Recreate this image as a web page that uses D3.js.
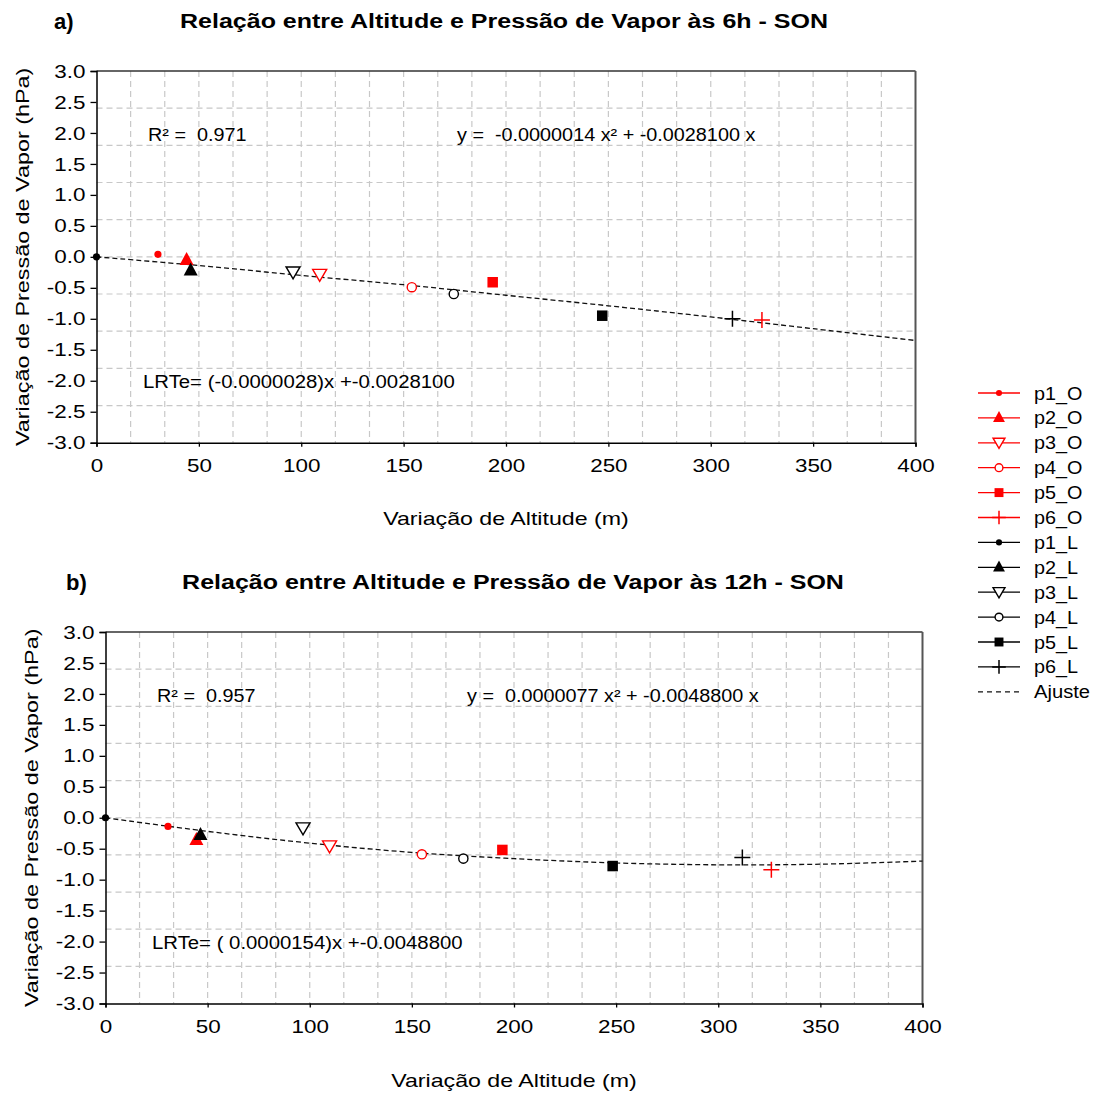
<!DOCTYPE html>
<html><head><meta charset="utf-8">
<script src="https://cdn.jsdelivr.net/npm/d3@7"></script>
<style>
body{margin:0;background:#fff;}
text{font-family:"Liberation Sans",Arial,sans-serif;white-space:pre;}
</style></head>
<body><svg id="c" width="1096" height="1093"></svg>
<script>
// ---- data ----
const seriesNames = ["p1_O","p2_O","p3_O","p4_O","p5_O","p6_O","p1_L","p2_L","p3_L","p4_L","p5_L","p6_L"];
const seriesColors = ["red","red","red","red","red","red","black","black","black","black","black","black"];
const seriesShapes = ["dot","triUp","triDown","ring","square","plus","dot","triUp","triDown","ring","square","plus"];
// chart a) 6h
const altA = [30, 44, 109, 154, 193.5, 325, 0, 46, 96, 174.5, 247, 310.6];
const vapA = [0.04, -0.05, -0.29, -0.49, -0.41, -1.02, 0.0, -0.22, -0.25, -0.60, -0.95, -1.00];
// chart b) 12h
const altB = [30.6, 44.5, 109.7, 154.9, 194.3, 326, 0, 46.5, 96.7, 175.2, 248.3, 311.8];
const vapB = [-0.14, -0.36, -0.46, -0.59, -0.52, -0.84, 0.0, -0.28, -0.17, -0.66, -0.78, -0.64];
// fitted curve
const fitX = [0, 50, 100, 150, 200, 250, 300, 350, 400];
const fitA = [0, -0.14, -0.30, -0.45, -0.62, -0.79, -0.97, -1.16, -1.35];
const fitB = [0, -0.22, -0.41, -0.56, -0.66, -0.73, -0.76, -0.75, -0.70];
const xTicks = [0, 50, 100, 150, 200, 250, 300, 350, 400];
const yTicks = [3.0, 2.5, 2.0, 1.5, 1.0, 0.5, 0.0, -0.5, -1.0, -1.5, -2.0, -2.5, -3.0];
const titles = ["Relação entre Altitude e Pressão de Vapor às 6h - SON", "Relação entre Altitude e Pressão de Vapor às 12h - SON"];
const panelLetters = ["a)", "b)"];
const r2Texts = ["R² =  0.971", "R² =  0.957"];
const eqTexts = ["y =  -0.0000014 x² + -0.0028100 x", "y =  0.0000077 x² + -0.0048800 x"];
const lrteTexts = ["LRTe= (-0.0000028)x +-0.0028100", "LRTe= ( 0.0000154)x +-0.0048800"];
const xLabel = "Variação de Altitude (m)";
const yLabel = "Variação de Pressão de Vapor (hPa)";
const fitName = "Ajuste";

const svg = d3.select("#c");

// widen glyphs horizontally (reference text is wider than Liberation Sans)
function stretch(sel, f) {
  sel.each(function() {
    const len = this.getComputedTextLength();
    d3.select(this).attr("textLength", len * f).attr("lengthAdjust", "spacingAndGlyphs");
  });
  return sel;
}

function drawMarker(g, shape, color, x, y, scale) {
  const s = scale || 1;
  if (shape === "dot") {
    g.append("circle").attr("cx", x).attr("cy", y).attr("r", 3.6*s).attr("fill", color);
  } else if (shape === "triUp") {
    const h = 13*s, w = 14*s;
    g.append("path").attr("d", `M${x},${y-h*0.62}L${x+w/2},${y+h*0.38}L${x-w/2},${y+h*0.38}Z`).attr("fill", color);
  } else if (shape === "triDown") {
    const h = 12*s, w = 14*s;
    g.append("path").attr("d", `M${x-w/2},${y-h*0.45}L${x+w/2},${y-h*0.45}L${x},${y+h*0.55}Z`)
      .attr("fill", "white").attr("stroke", color).attr("stroke-width", 1.4);
  } else if (shape === "ring") {
    g.append("circle").attr("cx", x).attr("cy", y).attr("r", 4.6*s).attr("fill", "white").attr("stroke", color).attr("stroke-width", 1.4);
  } else if (shape === "square") {
    const a = 10.5*s;
    g.append("rect").attr("x", x-a/2).attr("y", y-a/2).attr("width", a).attr("height", a).attr("fill", color);
  } else if (shape === "plus") {
    const a = 8*s;
    g.append("path").attr("d", `M${x-a},${y}H${x+a}M${x},${y-a}V${y+a}`).attr("stroke", color).attr("stroke-width", 1.5).attr("fill", "none");
  }
}

function panel(cfg) {
  const {left, right, top, bottom, alt, vap, fit, idx, titleX, titleY, letterX, ylabX, xlabY} = cfg;
  const x = d3.scaleLinear().domain([0, 400]).range([left, right]);
  const y = d3.scaleLinear().domain([-3, 3]).range([bottom, top]);
  const g = svg.append("g");

  // grid (10 horizontal divisions, 24 vertical divisions)
  const grid = g.append("g").attr("stroke", "#c8c8c8").attr("stroke-width", 1.2).attr("stroke-dasharray", "6,4");
  d3.range(1, 10).forEach(k => {
    const yy = top + (bottom - top) * k / 10;
    grid.append("line").attr("x1", left).attr("x2", right).attr("y1", yy).attr("y2", yy);
  });
  d3.range(1, 24).forEach(k => {
    const xx = left + (right - left) * k / 24;
    grid.append("line").attr("x1", xx).attr("x2", xx).attr("y1", top).attr("y2", bottom);
  });

  // frame
  g.append("line").attr("x1", left).attr("x2", right).attr("y1", top).attr("y2", top).attr("stroke", "#333").attr("stroke-width", 1.5);
  g.append("line").attr("x1", right).attr("x2", right).attr("y1", top).attr("y2", bottom).attr("stroke", "#555").attr("stroke-width", 2);

  // axes
  const xa = g.append("g").attr("transform", `translate(0,${bottom})`)
    .call(d3.axisBottom(x).tickValues(xTicks).tickSize(4).tickPadding(12).tickFormat(d3.format("d")));
  const ya = g.append("g").attr("transform", `translate(${left},0)`)
    .call(d3.axisLeft(y).tickValues(yTicks).tickSize(6).tickPadding(5).tickFormat(d3.format(".1f")));
  [xa, ya].forEach(a => {
    a.select(".domain").attr("stroke", "#000").attr("stroke-width", 1.5);
    a.selectAll(".tick line").attr("stroke", "#000").attr("stroke-width", 1.3);
    a.selectAll("text").attr("font-size", 19).attr("fill", "#000").attr("font-family", "Liberation Sans, Arial, sans-serif");
  });
  ya.selectAll("text").text(d => d3.format(".1f")(d).replace("−", "-"));
  stretch(xa.selectAll("text"), 1.18);
  stretch(ya.selectAll("text"), 1.18);

  // fit line
  const line = d3.line().x(d => x(d[0])).y(d => y(d[1])).curve(d3.curveCardinal);
  g.append("path").datum(fitX.map((v, i) => [v, fit[i]])).attr("d", line)
    .attr("fill", "none").attr("stroke", "#111").attr("stroke-width", 1.3).attr("stroke-dasharray", "5,3");

  // points
  seriesNames.forEach((n, i) => {
    drawMarker(g, seriesShapes[i], seriesColors[i], x(alt[i]), y(vap[i]));
  });

  // annotations
  const fs = 18;
  stretch(g.append("text").attr("x", cfg.r2X).attr("y", cfg.r2Y).attr("font-size", fs).text(r2Texts[idx]), 1.1);
  stretch(g.append("text").attr("x", cfg.eqX).attr("y", cfg.r2Y).attr("font-size", fs).text(eqTexts[idx]), 1.1);
  stretch(g.append("text").attr("x", cfg.lrX).attr("y", cfg.lrY).attr("font-size", fs).text(lrteTexts[idx]), 1.13);

  // titles
  stretch(g.append("text").attr("x", titleX).attr("y", titleY).attr("text-anchor", "middle")
    .attr("font-size", 20).attr("font-weight", "bold").text(titles[idx]), 1.25);
  g.append("text").attr("x", letterX).attr("y", titleY + 1).attr("font-size", 22).attr("font-weight", "bold")
    .attr("font-family", "Liberation Serif, Times New Roman, serif").text(panelLetters[idx]);
  stretch(g.append("text").attr("x", (left + right) / 2).attr("y", xlabY).attr("text-anchor", "middle")
    .attr("font-size", 19).text(xLabel), 1.22);
  stretch(g.append("text").attr("transform", `translate(${ylabX},${(top + bottom) / 2}) rotate(-90)`)
    .attr("text-anchor", "middle").attr("font-size", 19).text(yLabel), 1.23);
}

panel({left: 96.5, right: 915.5, top: 71, bottom: 442.7, alt: altA, vap: vapA, fit: fitA, idx: 0,
  titleX: 504, titleY: 28, letterX: 54, ylabX: 29, xlabY: 525,
  r2X: 148, r2Y: 141, eqX: 457, lrX: 143, lrY: 388});
panel({left: 105.5, right: 922.5, top: 632, bottom: 1003.5, alt: altB, vap: vapB, fit: fitB, idx: 1,
  titleX: 513, titleY: 589, letterX: 66, ylabX: 38, xlabY: 1087,
  r2X: 157, r2Y: 702, eqX: 467, lrX: 152, lrY: 949});

// legend
const lg = svg.append("g");
const ly0 = 393, ldy = 24.9;
seriesNames.forEach((n, i) => {
  const yy = ly0 + i * ldy;
  lg.append("line").attr("x1", 978).attr("x2", 1020).attr("y1", yy).attr("y2", yy).attr("stroke", seriesColors[i]).attr("stroke-width", 1.3);
  drawMarker(lg, seriesShapes[i], seriesColors[i], 999, yy, 0.85);
  stretch(lg.append("text").attr("x", 1034).attr("y", yy + 6.5).attr("font-size", 18).text(n), 1.1);
});
const fy = ly0 + 12 * ldy;
lg.append("line").attr("x1", 978).attr("x2", 1020).attr("y1", fy).attr("y2", fy).attr("stroke", "#111").attr("stroke-width", 1.3).attr("stroke-dasharray", "5,4");
stretch(lg.append("text").attr("x", 1034).attr("y", fy + 6.5).attr("font-size", 18).text(fitName), 1.12);
</script>
</body></html>
